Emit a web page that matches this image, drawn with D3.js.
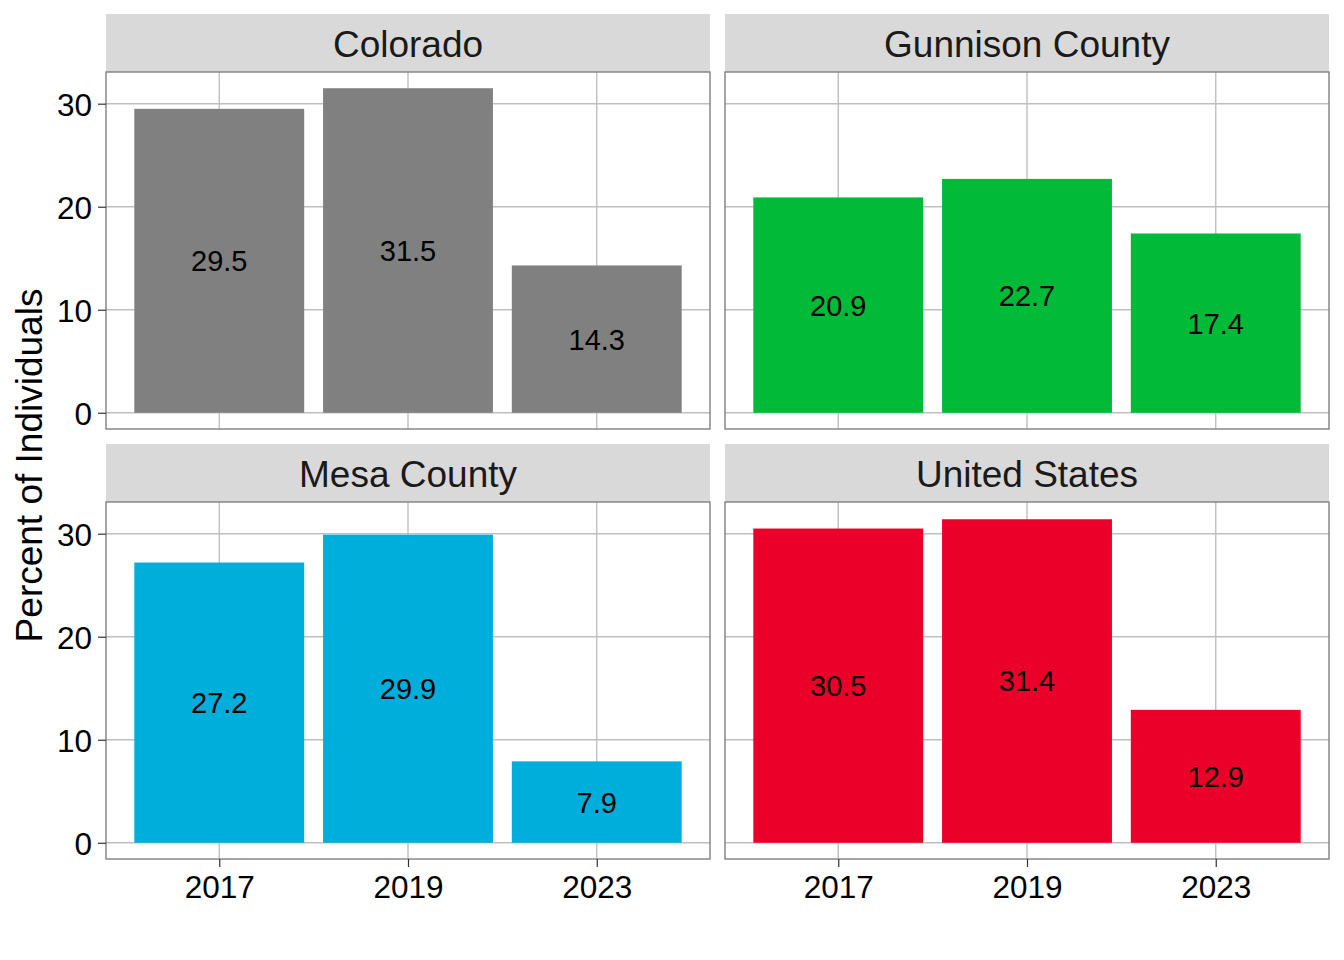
<!DOCTYPE html>
<html>
<head>
<meta charset="utf-8">
<script src="https://cdn.jsdelivr.net/npm/d3@7"></script>
<style>
  html, body { margin: 0; padding: 0; background: #ffffff; }
  svg { display: block; font-family: "Liberation Sans", Arial, Helvetica, sans-serif; }
</style>
</head>
<body>
<svg id="chart" width="1344" height="960"></svg>
<script>
// ---- data ----
const years = ["2017", "2019", "2023"];
const facets = ["Colorado", "Gunnison County", "Mesa County", "United States"];
const colorado = [29.5, 31.5, 14.3];
const gunnison = [20.9, 22.7, 17.4];
const mesa = [27.2, 29.9, 7.9];
const unitedStates = [30.5, 31.4, 12.9];
const facetColors = ["#808080", "#00BA38", "#00AEDB", "#EA0029"];
const yTicks = [0, 10, 20, 30];
const yTitle = "Percent of Individuals";

const seriesByFacet = [colorado, gunnison, mesa, unitedStates];

// ---- layout ----
const svg = d3.select("#chart");
const colX = [106, 725];
const panelW = 604;
const stripTop = [14, 444];
const stripH = 58;
const panelH = 357;

const maxV = d3.max(seriesByFacet.flat());
const pad = maxV * 0.05;
const yDomain = [0 - pad, maxV + pad];

const gridColor = "#bfbfbf";
const borderColor = "#808080";
const tickColor = "#333333";

facets.forEach((name, i) => {
  const col = i % 2, row = Math.floor(i / 2);
  const x0 = colX[col];
  const sTop = stripTop[row];
  const pTop = sTop + stripH;
  const g = svg.append("g");

  // strip
  g.append("rect").attr("x", x0).attr("y", sTop).attr("width", panelW).attr("height", stripH)
    .attr("fill", "#d9d9d9");
  g.append("text").attr("x", x0 + panelW / 2).attr("y", sTop + stripH / 2 + 1)
    .attr("dy", "0.36em").attr("text-anchor", "middle")
    .attr("font-size", 37).attr("fill", "#1a1a1a").text(name);

  // scales
  const x = d3.scaleBand().domain(years)
    .range([x0, x0 + panelW]).paddingInner(0.1).paddingOuter(0.15);
  const cx = d => x(d) + x.bandwidth() / 2;
  const y = d3.scaleLinear().domain(yDomain).range([pTop + panelH, pTop]);

  // panel background
  g.append("rect").attr("x", x0).attr("y", pTop).attr("width", panelW).attr("height", panelH)
    .attr("fill", "#ffffff");

  // gridlines
  g.selectAll(".hg").data(yTicks).enter().append("line")
    .attr("x1", x0).attr("x2", x0 + panelW)
    .attr("y1", d => y(d)).attr("y2", d => y(d))
    .attr("stroke", gridColor).attr("stroke-width", 1.4);
  g.selectAll(".vg").data(years).enter().append("line")
    .attr("x1", d => cx(d)).attr("x2", d => cx(d))
    .attr("y1", pTop).attr("y2", pTop + panelH)
    .attr("stroke", gridColor).attr("stroke-width", 1.4);

  // bars
  const vals = seriesByFacet[i];
  g.selectAll(".bar").data(years).enter().append("rect")
    .attr("x", d => x(d))
    .attr("width", x.bandwidth())
    .attr("y", (d, j) => y(vals[j]))
    .attr("height", (d, j) => y(0) - y(vals[j]))
    .attr("fill", facetColors[i]);

  // bar labels
  g.selectAll(".lbl").data(years).enter().append("text")
    .attr("x", d => cx(d))
    .attr("y", (d, j) => y(vals[j] / 2))
    .attr("dy", "0.36em").attr("text-anchor", "middle")
    .attr("font-size", 29).attr("fill", "#000000")
    .text((d, j) => vals[j].toFixed(1));

  // border
  g.append("rect").attr("x", x0).attr("y", pTop).attr("width", panelW).attr("height", panelH)
    .attr("fill", "none").attr("stroke", borderColor).attr("stroke-width", 1.4);

  // y axis (left column)
  if (col === 0) {
    const ya = g.append("g").attr("transform", `translate(${x0},0)`)
      .call(d3.axisLeft(y).tickValues(yTicks).tickSize(8).tickPadding(6).tickFormat(d3.format("d")));
    ya.select(".domain").remove();
    ya.selectAll(".tick line").attr("stroke", tickColor).attr("stroke-width", 1.2);
    ya.selectAll(".tick text").attr("font-size", 31.5).attr("fill", "#000000")
      .attr("font-family", "Liberation Sans, Arial, sans-serif").attr("dy", "0.38em");
  }
  // x axis (bottom row)
  if (row === 1) {
    const xs = d3.scalePoint().domain(years).range([cx(years[0]), cx(years[years.length - 1])]);
    const xa = g.append("g").attr("transform", `translate(0,${pTop + panelH})`)
      .call(d3.axisBottom(xs).tickSize(8).tickPadding(9));
    xa.select(".domain").remove();
    xa.selectAll(".tick line").attr("stroke", tickColor).attr("stroke-width", 1.2);
    xa.selectAll(".tick text").attr("font-size", 31.5).attr("fill", "#000000")
      .attr("font-family", "Liberation Sans, Arial, sans-serif").attr("dy", "0.71em");
  }
});

// y axis title
svg.append("text")
  .attr("transform", `translate(29,${(stripTop[0] + stripH + stripTop[1] + stripH + panelH) / 2}) rotate(-90)`)
  .attr("dy", "0.36em").attr("text-anchor", "middle")
  .attr("font-size", 37).attr("fill", "#000000").text(yTitle);
</script>
</body>
</html>
